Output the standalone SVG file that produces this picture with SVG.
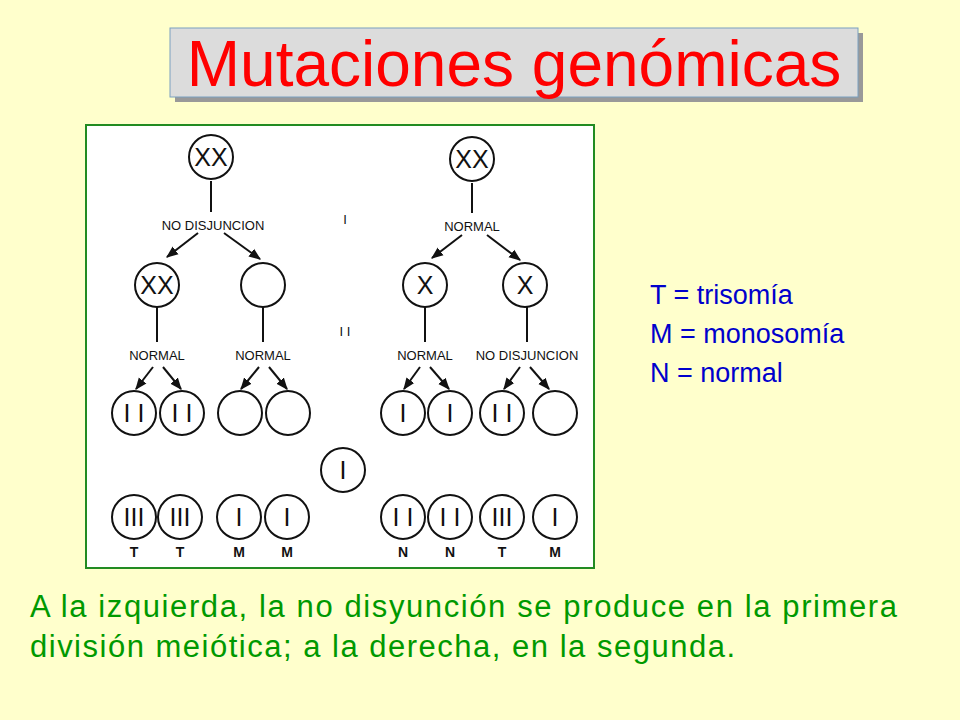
<svg xmlns="http://www.w3.org/2000/svg" width="960" height="720" viewBox="0 0 960 720">
<defs>
<marker id="ah" viewBox="0 0 10 10" refX="9" refY="5" markerWidth="6" markerHeight="6" orient="auto"><path d="M0,1 L10,5 L0,9 z" fill="#111"/></marker>
<style>
.c{fill:#fff;stroke:#111;stroke-width:2}
.t{font-family:"Liberation Sans",Arial,sans-serif;font-size:25px;fill:#111;text-anchor:middle}
.s{font-family:"Liberation Sans",Arial,sans-serif;font-size:13px;fill:#111;text-anchor:middle}
.b{font-family:"Liberation Sans",Arial,sans-serif;font-size:14px;font-weight:bold;fill:#111;text-anchor:middle}
.l{stroke:#111;stroke-width:2;fill:none}
.a{stroke:#111;stroke-width:2;fill:none;marker-end:url(#ah)}
</style>
</defs>
<rect width="960" height="720" fill="#ffffcc"/>
<g id="title">
<rect x="175" y="33" width="688" height="69" fill="#999"/>
<rect x="170" y="28" width="688" height="69" fill="#dcdcdc" stroke="#7aa0c0" stroke-width="1"/>
<text x="514" y="86" font-family="Liberation Sans,Arial,sans-serif" font-size="64" fill="#ff0000" text-anchor="middle">Mutaciones genómicas</text>
</g>
<rect x="86" y="125" width="508" height="443" fill="#fff" stroke="#228b22" stroke-width="2"/>
<g id="connectors">
<line class="l" x1="211" y1="181" x2="211" y2="212"/>
<line class="a" x1="198" y1="233" x2="167" y2="257"/>
<line class="a" x1="224" y1="233" x2="260" y2="259"/>
<line class="l" x1="157" y1="307" x2="157" y2="342"/>
<line class="l" x1="263" y1="307" x2="263" y2="342"/>
<line class="a" x1="153" y1="367" x2="136" y2="389"/>
<line class="a" x1="163" y1="367" x2="181" y2="389"/>
<line class="a" x1="259" y1="367" x2="241" y2="389"/>
<line class="a" x1="269" y1="367" x2="287" y2="389"/>
<line class="l" x1="472" y1="183" x2="472" y2="213"/>
<line class="a" x1="462" y1="235" x2="432" y2="258"/>
<line class="a" x1="487" y1="235" x2="520" y2="260"/>
<line class="l" x1="425" y1="307" x2="425" y2="342"/>
<line class="l" x1="527" y1="307" x2="527" y2="342"/>
<line class="a" x1="420" y1="367" x2="404" y2="389"/>
<line class="a" x1="430" y1="367" x2="449" y2="389"/>
<line class="a" x1="520" y1="367" x2="504" y2="389"/>
<line class="a" x1="530" y1="367" x2="549" y2="389"/>
</g>
<g id="labels">
<text class="s" x="213" y="230">NO DISJUNCION</text>
<text class="s" x="157" y="360">NORMAL</text>
<text class="s" x="263" y="360">NORMAL</text>
<text class="s" x="472" y="231">NORMAL</text>
<text class="s" x="425" y="360">NORMAL</text>
<text class="s" x="527" y="360">NO DISJUNCION</text>
<text class="s" x="345" y="224" font-size="16">I</text>
<text class="s" x="345" y="336" font-size="16">I I</text>
</g>
<g id="n1"><circle class="c" cx="211" cy="157" r="22"/><text class="t" x="211" y="166">XX</text></g>
<g id="n2"><circle class="c" cx="157" cy="285" r="22"/><text class="t" x="157" y="294">XX</text></g>
<g id="n3"><circle class="c" cx="263" cy="285" r="22"/></g>
<g id="n4"><circle class="c" cx="134" cy="413" r="22"/><text class="t" x="134" y="422">I I</text></g>
<g id="n5"><circle class="c" cx="182" cy="413" r="22"/><text class="t" x="182" y="422">I I</text></g>
<g id="n6"><circle class="c" cx="240" cy="413" r="22"/></g>
<g id="n7"><circle class="c" cx="288" cy="413" r="22"/></g>
<g id="n8"><circle class="c" cx="134" cy="517" r="22"/><text class="t" x="134" y="526">III</text></g>
<g id="n9"><circle class="c" cx="180" cy="517" r="22"/><text class="t" x="180" y="526">III</text></g>
<g id="n10"><circle class="c" cx="239" cy="517" r="22"/><text class="t" x="239" y="526">I</text></g>
<g id="n11"><circle class="c" cx="287" cy="517" r="22"/><text class="t" x="287" y="526">I</text></g>
<g id="n12"><circle class="c" cx="343" cy="470" r="22"/><text class="t" x="343" y="479">I</text></g>
<g id="n13"><circle class="c" cx="472" cy="159" r="22"/><text class="t" x="472" y="168">XX</text></g>
<g id="n14"><circle class="c" cx="425" cy="285" r="22"/><text class="t" x="425" y="294">X</text></g>
<g id="n15"><circle class="c" cx="525" cy="285" r="22"/><text class="t" x="525" y="294">X</text></g>
<g id="n16"><circle class="c" cx="403" cy="413" r="22"/><text class="t" x="403" y="422">I</text></g>
<g id="n17"><circle class="c" cx="450" cy="413" r="22"/><text class="t" x="450" y="422">I</text></g>
<g id="n18"><circle class="c" cx="502" cy="413" r="22"/><text class="t" x="502" y="422">I I</text></g>
<g id="n19"><circle class="c" cx="555" cy="413" r="22"/></g>
<g id="n20"><circle class="c" cx="403" cy="517" r="22"/><text class="t" x="403" y="526">I I</text></g>
<g id="n21"><circle class="c" cx="450" cy="517" r="22"/><text class="t" x="450" y="526">I I</text></g>
<g id="n22"><circle class="c" cx="502" cy="517" r="22"/><text class="t" x="502" y="526">III</text></g>
<g id="n23"><circle class="c" cx="555" cy="517" r="22"/><text class="t" x="555" y="526">I</text></g>
<g id="bottomlabels">
<text class="b" x="134" y="557">T</text><text class="b" x="180" y="557">T</text><text class="b" x="239" y="557">M</text><text class="b" x="287" y="557">M</text>
<text class="b" x="403" y="557">N</text><text class="b" x="450" y="557">N</text><text class="b" x="502" y="557">T</text><text class="b" x="555" y="557">M</text>
</g>
<g id="legend" font-family="Liberation Sans,Arial,sans-serif" font-size="27" fill="#0000cc">
<text x="650" y="304">T = trisomía</text>
<text x="650" y="343">M = monosomía</text>
<text x="650" y="382">N = normal</text>
</g>
<g id="caption" font-family="Liberation Sans,Arial,sans-serif" font-size="31" fill="#009900">
<text x="30" y="617" textLength="867" lengthAdjust="spacing">A la izquierda,  la no disyunción se produce en la primera</text>
<text x="30" y="657" textLength="705" lengthAdjust="spacing">división meiótica; a la derecha, en la segunda.</text>
</g>
</svg>
